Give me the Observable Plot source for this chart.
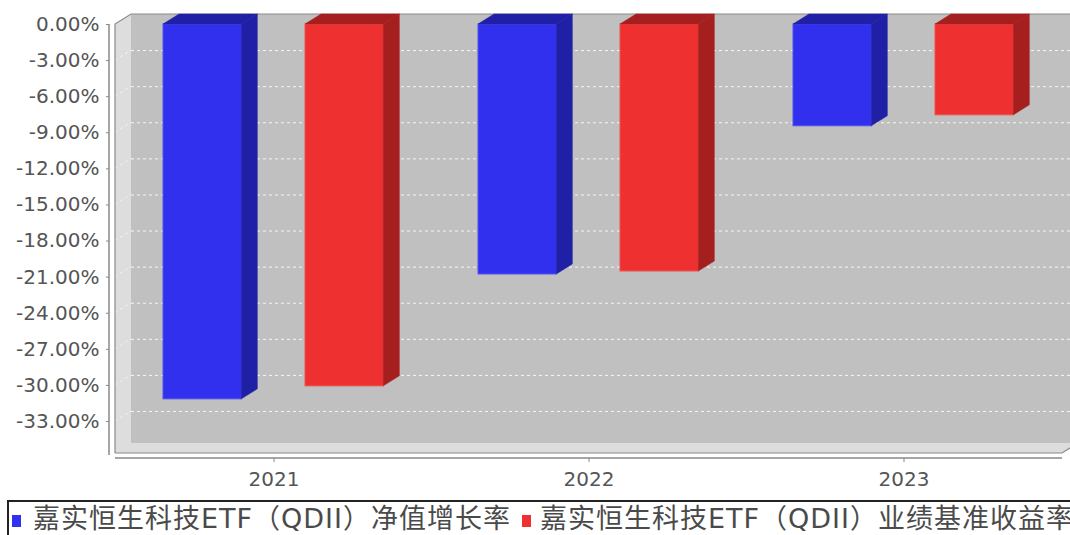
<!DOCTYPE html>
<html>
<head>
<meta charset="utf-8">
<script src="https://cdn.jsdelivr.net/npm/d3@7"></script>
<script src="https://cdn.jsdelivr.net/npm/@observablehq/plot@0.6"></script>
<style>
html, body { margin:0; padding:0; background:#fff; width:1070px; height:535px; overflow:hidden; }
#chart { position:absolute; left:0; top:0; }
#legendBox { position:absolute; left:7px; top:500px; width:1120px; height:60px; border-top:2px solid #222; border-left:2px solid #222; }
.sw { position:absolute; width:9px; height:12px; }
.lt { position:absolute; white-space:nowrap; font-family:"DejaVu Sans","Noto Sans CJK SC",sans-serif; font-size:27px; letter-spacing:1px; color:#4a4a4a; line-height:1; }
</style>
</head>
<body>
<div id="chart"></div>
<div id="legendBox"></div>
<div id="legend"></div>
<script>
// ---- data ----
const years = ["2021", "2022", "2023"];
const navGrowth = [-31.16, -20.78, -8.46];   // 净值增长率 (%)
const benchmark = [-30.08, -20.53, -7.55];   // 业绩基准收益率 (%)
const seriesNames = ["嘉实恒生科技ETF（QDII）净值增长率", "嘉实恒生科技ETF（QDII）业绩基准收益率"];
const yTicks = [0, -3, -6, -9, -12, -15, -18, -21, -24, -27, -30, -33];
const yMin = -35.66;

// ---- styles ----
const frontColors = ["#3030ee", "#ee3030"];
const sideColors = ["#2020a6", "#a61f1f"];
const edgeColors = ["#5050f0", "#f05050"];
const insets = [[47, 189.67], [189, 47.67]];
const DX = 16, DY = -10;
const W = 1070, H = 498, mT = 24, mB = 45, mL = 115, mR = 8;

const rows = years.flatMap((yr, i) => [
  {year: yr, series: 0, value: navGrowth[i]},
  {year: yr, series: 1, value: benchmark[i]}
]);

const barMark = s => Plot.barY(rows.filter(d => d.series === s), {
  x: "year", y: "value", fill: frontColors[s],
  stroke: edgeColors[s], strokeWidth: 1,
  insetLeft: insets[s][0], insetRight: insets[s][1]
});

const plot = Plot.plot({
  width: W, height: H,
  marginTop: mT, marginBottom: mB, marginLeft: mL, marginRight: mR,
  style: {background: "transparent", fontFamily: "DejaVu Sans", fontSize: "20px", color: "#555"},
  x: {domain: years, padding: 0, label: null},
  y: {domain: [yMin, 0], label: null},
  marks: [
    Plot.ruleY(yTicks.filter(d => d !== 0), {stroke: "#ffffff", strokeOpacity: 0.85, strokeDasharray: "3,3", dx: DX, dy: DY}),
    barMark(0),
    barMark(1),
    Plot.axisY({ticks: yTicks, tickFormat: d => d.toFixed(2) + "%", tickSize: 3, tickPadding: 7, dx: -6, stroke: "#888", fill: "#555", label: null}),
    Plot.axisX({tickSize: 4, tickPadding: 9, dy: 5, stroke: "#888", fill: "#555", label: null})
  ]
});

document.getElementById("chart").appendChild(plot);

// ---- 3D decorations from the plot's scales ----
const svg = d3.select(plot);
const xs = plot.scale("x"), ys = plot.scale("y");
const X = v => xs.apply(v), Y = v => ys.apply(v);
const bw = xs.bandwidth;
const pL = mL, pR = W - mR, pT = Y(0), pB = Y(yMin);

const bg = svg.insert("g", ":first-child");
bg.append("polygon")
  .attr("points", [[pL, pT], [pL + DX, pT + DY], [pR + DX, pT + DY], [pR + DX, pB + DY], [pR, pB], [pL, pB]].map(p => p.join(",")).join(" "))
  .attr("fill", "#dddddd");
bg.append("rect")
  .attr("x", pL + DX).attr("y", pT + DY)
  .attr("width", pR - pL).attr("height", pB - pT)
  .attr("fill", "#c0c0c0");
bg.selectAll("line.lw").data(yTicks.filter(d => d !== 0)).join("line")
  .attr("x1", pL).attr("y1", d => Y(d))
  .attr("x2", pL + DX).attr("y2", d => Y(d) + DY)
  .attr("stroke", "#fff").attr("stroke-opacity", 0.6).attr("stroke-dasharray", "3,3");
bg.append("path")
  .attr("d", `M${pL},${pB}L${pL},${pT}L${pL + DX},${pT + DY}L${pR + DX},${pT + DY}M${pL},${pB}L${pR},${pB}L${pR + DX},${pB + DY}`)
  .attr("fill", "none").attr("stroke", "#8a8a8a").attr("stroke-width", 1.2);

// axis lines
const fg = svg.append("g");
fg.append("line").attr("x1", pL - 6).attr("x2", pL - 6).attr("y1", pT).attr("y2", pB + 2).attr("stroke", "#888").attr("stroke-width", 1.5);
fg.append("line").attr("x1", pL).attr("x2", pR).attr("y1", pB + 5).attr("y2", pB + 5).attr("stroke", "#888").attr("stroke-width", 1.5);

// bar side and top faces
rows.forEach(d => {
  const x1 = X(d.year) + insets[d.series][0];
  const x2 = X(d.year) + bw - insets[d.series][1];
  const y0 = Y(0), yv = Y(d.value);
  fg.append("polygon")
    .attr("points", [[x2, y0], [x2 + DX, y0 + DY], [x2 + DX, yv + DY], [x2, yv]].map(p => p.join(",")).join(" "))
    .attr("fill", sideColors[d.series]).attr("stroke", sideColors[d.series]).attr("stroke-width", 0.5);
  fg.append("polygon")
    .attr("points", [[x1, y0], [x1 + DX, y0 + DY], [x2 + DX, y0 + DY], [x2, y0]].map(p => p.join(",")).join(" "))
    .attr("fill", sideColors[d.series]).attr("stroke", sideColors[d.series]).attr("stroke-width", 0.5);
});

// ---- legend ----
const legend = document.getElementById("legend");
const legendPos = [{sw: 12, tx: 33}, {sw: 522, tx: 540}];
seriesNames.forEach((name, i) => {
  const sw = document.createElement("div");
  sw.className = "sw";
  sw.style.left = legendPos[i].sw + "px";
  sw.style.top = "515px";
  sw.style.background = frontColors[i];
  legend.appendChild(sw);
  const t = document.createElement("div");
  t.className = "lt";
  t.style.left = legendPos[i].tx + "px";
  t.style.top = "505px";
  t.textContent = name;
  legend.appendChild(t);
});
</script>
</body>
</html>
